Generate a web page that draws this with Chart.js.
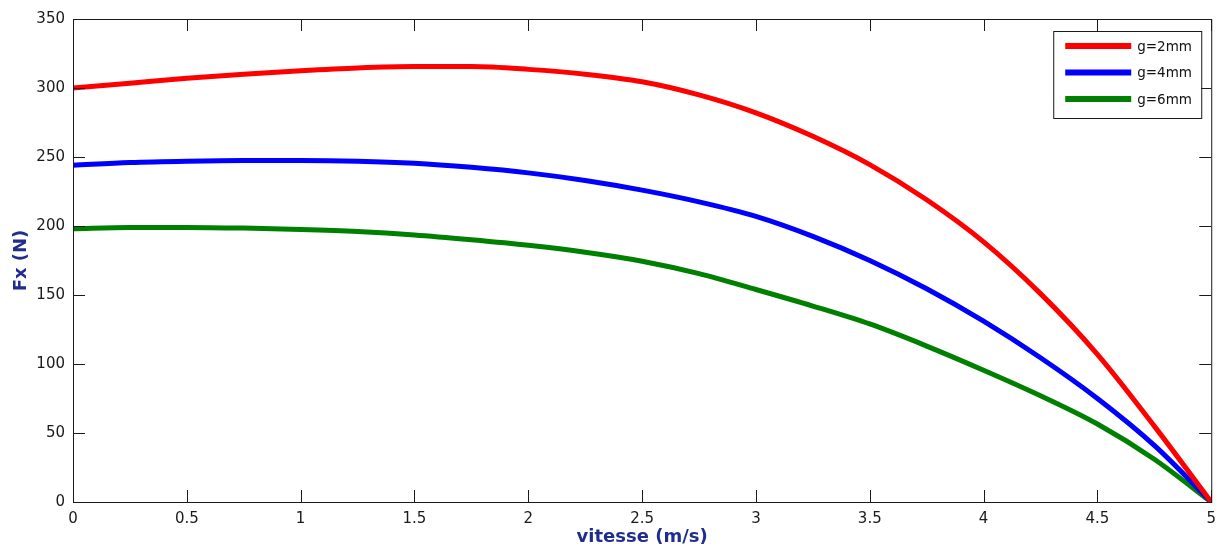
<!DOCTYPE html>
<html>
<head>
<meta charset="utf-8">
<title>Fx (N) — vitesse (m/s)</title>
<script src="https://cdn.jsdelivr.net/npm/chart.js@4/dist/chart.umd.min.js"></script>
<style>
  html, body { margin: 0; padding: 0; background: #ffffff; }
  #wrap { width: 1224px; height: 548px; }
</style>
</head>
<body>
<div id="wrap"><canvas id="c" width="1224" height="548"></canvas></div>
<script>
// Vitesse (m/s) sample points
const vitesse = [0, 0.25, 0.5, 0.75, 1, 1.25, 1.5, 1.75, 2, 2.25, 2.5, 2.75, 3, 3.25, 3.5, 3.75, 4, 4.25, 4.5, 4.75, 5];

// Thrust Fx (N) for each air gap
const fx_g2 = [300, 303.5, 307, 310, 312.5, 314.5, 315.5, 315.5, 313.5, 310, 304.5, 295, 282, 265, 244.5, 219, 188.5, 151, 107, 55, 0];
const fx_g4 = [244, 246, 247, 247.5, 247.5, 247, 245.5, 242.5, 238.5, 233, 226, 217.5, 207, 192.5, 175, 154.5, 131, 104.5, 75, 41, 0];
const fx_g6 = [198, 199, 199, 198.5, 197.5, 196, 193.5, 190, 186, 181, 174.5, 165.5, 154, 142, 129, 113, 95.5, 77, 56.5, 31, 0];

const seriesLabels = ['g=2mm', 'g=4mm', 'g=6mm'];
const seriesColors = ['#ff0000', '#0000ff', '#008000'];

const xTicks = [0, 0.5, 1, 1.5, 2, 2.5, 3, 3.5, 4, 4.5, 5];
const yTicks = [0, 50, 100, 150, 200, 250, 300, 350];

const toPoints = ys => vitesse.map((v, i) => ({ x: v, y: ys[i] }));

// Box around the plot area with inward tick marks on all four sides
const boxTicks = {
  id: 'boxTicks',
  afterDatasetsDraw(chart) {
    const { ctx, chartArea: a, scales: { x, y } } = chart;
    const len = 12;
    ctx.save();
    ctx.strokeStyle = '#1a1a1a';
    ctx.lineWidth = 1;
    ctx.beginPath();
    xTicks.forEach(v => {
      const px = Math.round(x.getPixelForValue(v)) + 0.5;
      ctx.moveTo(px, a.bottom); ctx.lineTo(px, a.bottom - len);
      ctx.moveTo(px, a.top); ctx.lineTo(px, a.top + len);
    });
    yTicks.forEach(v => {
      const py = Math.round(y.getPixelForValue(v)) + 0.5;
      ctx.moveTo(a.left, py); ctx.lineTo(a.left + len, py);
      ctx.moveTo(a.right, py); ctx.lineTo(a.right - len, py);
    });
    ctx.stroke();
    ctx.strokeRect(a.left + 0.5, a.top + 0.5, a.right - a.left, a.bottom - a.top);
    ctx.restore();
  }
};

// Legend box drawn inside the upper-right corner of the plot
const innerLegend = {
  id: 'innerLegend',
  afterDraw(chart) {
    const { ctx, chartArea: a } = chart;
    const w = 148, h = 87;
    const left = a.right - 10 - w, top = a.top + 12;
    ctx.save();
    ctx.fillStyle = '#ffffff';
    ctx.fillRect(left, top, w, h);
    ctx.strokeStyle = '#1a1a1a';
    ctx.lineWidth = 1;
    ctx.strokeRect(left + 0.5, top + 0.5, w, h);
    ctx.font = '13.5px "DejaVu Sans", sans-serif';
    ctx.textBaseline = 'middle';
    ctx.textAlign = 'left';
    chart.data.datasets.forEach((ds, i) => {
      const ly = top + 15 + i * 26.5;
      ctx.strokeStyle = ds.borderColor;
      ctx.lineWidth = 6;
      ctx.beginPath();
      ctx.moveTo(left + 12, ly);
      ctx.lineTo(left + 78, ly);
      ctx.stroke();
      ctx.fillStyle = '#111111';
      ctx.fillText(ds.label, left + 84, ly + 1);
    });
    ctx.restore();
  }
};

const tickFont = { family: '"DejaVu Sans", sans-serif', size: 15 };
const titleFont = { family: '"DejaVu Sans", sans-serif', size: 18, weight: 'bold' };

new Chart(document.getElementById('c'), {
  type: 'line',
  data: {
    datasets: [fx_g2, fx_g4, fx_g6].map((ys, i) => ({
      label: seriesLabels[i],
      data: toPoints(ys),
      borderColor: seriesColors[i],
      backgroundColor: seriesColors[i],
      borderWidth: 5,
      pointRadius: 0,
      cubicInterpolationMode: 'monotone',
      fill: false
    }))
  },
  options: {
    responsive: false,
    animation: false,
    layout: { padding: { top: 19, right: 12, left: 0, bottom: 0 } },
    plugins: {
      legend: { display: false },
      tooltip: { enabled: false }
    },
    scales: {
      x: {
        type: 'linear',
        min: 0,
        max: 5,
        afterBuildTicks: s => { s.ticks = xTicks.map(v => ({ value: v })); },
        afterFit: s => { s.height = 46; },
        grid: { display: false, drawTicks: false },
        border: { display: false },
        ticks: {
          font: tickFont,
          color: '#1a1a1a',
          padding: 8,
          maxRotation: 0,
          autoSkip: false,
          callback: v => String(v)
        },
        title: {
          display: true,
          text: 'vitesse (m/s)',
          color: '#1f2d8f',
          font: titleFont,
          align: 'center',
          padding: { top: 0, bottom: 0 }
        }
      },
      y: {
        type: 'linear',
        min: 0,
        max: 350,
        afterBuildTicks: s => { s.ticks = yTicks.map(v => ({ value: v })); },
        afterFit: s => { s.width = 73; },
        grid: { display: false, drawTicks: false },
        border: { display: false },
        ticks: {
          font: tickFont,
          color: '#1a1a1a',
          padding: 8,
          autoSkip: false,
          callback: v => String(v)
        },
        title: {
          display: true,
          text: 'Fx (N)',
          color: '#1f2d8f',
          font: titleFont,
          padding: { top: 11, bottom: 0 }
        }
      }
    }
  },
  plugins: [boxTicks, innerLegend]
});
</script>
</body>
</html>
